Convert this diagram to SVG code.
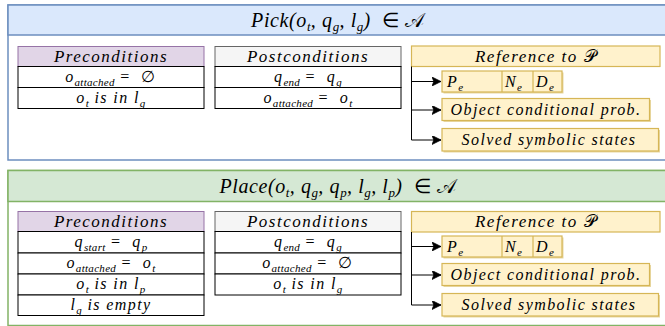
<svg xmlns="http://www.w3.org/2000/svg" width="665" height="326" viewBox="0 0 665 326">
<style>
.t{font-family:"Liberation Serif","Times New Roman",serif;font-style:italic;fill:#000}
.ttl{font-size:20px;letter-spacing:0.6px}
.hd{font-size:17px;letter-spacing:1.5px}
.rw{font-size:16px;letter-spacing:1.4px}
.sub{font-size:11px;letter-spacing:0.3px}
.tsub{font-size:13px;letter-spacing:0.3px}
.up{font-style:normal}
.pre{fill:#e1d5e7;stroke:#9673a6;stroke-width:1}
.post{fill:#f5f5f5;stroke:#666666;stroke-width:1}
.cell{fill:#ffffff;stroke:#000000;stroke-width:1}
.ref{fill:#fff2cc;stroke:#d6b656;stroke-width:1.2}
.sh{fill:#d6b656;opacity:0.55}
.con{fill:none;stroke:#000;stroke-width:1}
</style>
<defs>
<marker id="arr" viewBox="0 0 10 10" refX="10" refY="5" markerWidth="9" markerHeight="9" orient="auto" markerUnits="userSpaceOnUse">
<path d="M0,0 L10,5 L0,10 L2,5 Z" fill="#000" stroke="#000" stroke-width="0.8"/>
</marker>
</defs>

<!-- PICK -->
<g id="pick">
<rect x="8" y="5" width="670" height="155" fill="#ffffff" stroke="#6c8ebf" stroke-width="1.5"/>
<rect x="8" y="5" width="670" height="30" fill="#dae8fc" stroke="#6c8ebf" stroke-width="1.5"/>
<text class="t ttl" x="338" y="27" text-anchor="middle">Pick(o<tspan dy="4" class="tsub">t</tspan><tspan dy="-4">, q</tspan><tspan dy="4" class="tsub">g</tspan><tspan dy="-4">, l</tspan><tspan dy="4" class="tsub">g</tspan><tspan dy="-4">)&#160;&#160;</tspan><tspan class="up">∈ 𝒜</tspan></text>
</g>

<g id="pick-pre">
<rect class="pre" x="18" y="46.5" width="186" height="20"/>
<text class="t hd" x="111" y="62" text-anchor="middle">Preconditions</text>
<rect class="cell" x="18" y="66.5" width="186" height="21"/>
<text class="t rw" x="111" y="82" text-anchor="middle">o<tspan dy="4" class="sub">attached</tspan><tspan dy="-4" class="up"> =&#160;&#160;∅</tspan></text>
<rect class="cell" x="18" y="87.5" width="186" height="21"/>
<text class="t rw" x="111" y="102.5" text-anchor="middle">o<tspan dy="4" class="sub">t</tspan><tspan dy="-4"> is in l</tspan><tspan dy="4" class="sub">g</tspan></text>
</g>

<g id="pick-post">
<rect class="post" x="215" y="46.5" width="186" height="20"/>
<text class="t hd" x="308" y="62" text-anchor="middle">Postconditions</text>
<rect class="cell" x="215" y="66.5" width="186" height="21"/>
<text class="t rw" x="308" y="82" text-anchor="middle">q<tspan dy="4" class="sub">end</tspan><tspan dy="-4" class="up"> =&#160;&#160;</tspan><tspan>q</tspan><tspan dy="4" class="sub">g</tspan></text>
<rect class="cell" x="215" y="87.5" width="186" height="21"/>
<text class="t rw" x="308" y="102.5" text-anchor="middle">o<tspan dy="4" class="sub">attached</tspan><tspan dy="-4" class="up"> =&#160;&#160;</tspan><tspan>o</tspan><tspan dy="4" class="sub">t</tspan></text>
</g>

<g id="pick-ref">
<rect class="ref" x="411.5" y="46" width="248.5" height="20.5"/>
<text class="t hd" x="536" y="62" text-anchor="middle">Reference to <tspan class="up">𝒫</tspan></text>
<rect class="sh" x="443.5" y="72.5" width="120" height="21"/>
<rect class="ref" x="442" y="71" width="120" height="21"/>
<line x1="502" y1="71" x2="502" y2="92" stroke="#d6b656" stroke-width="1.2"/>
<line x1="533" y1="71" x2="533" y2="92" stroke="#d6b656" stroke-width="1.2"/>
<text class="t rw" x="447" y="87">P<tspan dy="4" class="sub">e</tspan></text>
<text class="t rw" x="505" y="87">N<tspan dy="4" class="sub">e</tspan></text>
<text class="t rw" x="536" y="87">D<tspan dy="4" class="sub">e</tspan></text>
<rect class="sh" x="443.5" y="100" width="207.5" height="22"/>
<rect class="ref" x="442" y="98.5" width="207.5" height="22"/>
<text class="t rw" x="546" y="115" text-anchor="middle">Object conditional prob.</text>
<rect class="sh" x="443.5" y="130" width="216.5" height="22.5"/>
<rect class="ref" x="442" y="128.5" width="216.5" height="22.5"/>
<text class="t rw" x="549" y="145" text-anchor="middle">Solved symbolic states</text>
</g>

<!-- PLACE -->
<g id="place">
<rect x="8" y="170.5" width="670" height="155" fill="#ffffff" stroke="#82b366" stroke-width="1.5"/>
<rect x="8" y="170.5" width="670" height="31" fill="#d5e8d4" stroke="#82b366" stroke-width="1.5"/>
<text class="t ttl" x="338" y="193" text-anchor="middle">Place(o<tspan dy="4" class="tsub">t</tspan><tspan dy="-4">, q</tspan><tspan dy="4" class="tsub">g</tspan><tspan dy="-4">, q</tspan><tspan dy="4" class="tsub">p</tspan><tspan dy="-4">, l</tspan><tspan dy="4" class="tsub">g</tspan><tspan dy="-4">, l</tspan><tspan dy="4" class="tsub">p</tspan><tspan dy="-4">)&#160;&#160;</tspan><tspan class="up">∈ 𝒜</tspan></text>
</g>

<g id="place-pre">
<rect class="pre" x="18" y="211.5" width="186" height="20"/>
<text class="t hd" x="111" y="227" text-anchor="middle">Preconditions</text>
<rect class="cell" x="18" y="231.5" width="186" height="21.5"/>
<text class="t rw" x="111" y="247" text-anchor="middle">q<tspan dy="4" class="sub">start</tspan><tspan dy="-4" class="up"> =&#160;&#160;</tspan><tspan>q</tspan><tspan dy="4" class="sub">p</tspan></text>
<rect class="cell" x="18" y="253" width="186" height="21"/>
<text class="t rw" x="111" y="268" text-anchor="middle">o<tspan dy="4" class="sub">attached</tspan><tspan dy="-4" class="up"> =&#160;&#160;</tspan><tspan>o</tspan><tspan dy="4" class="sub">t</tspan></text>
<rect class="cell" x="18" y="274" width="186" height="21"/>
<text class="t rw" x="111" y="289" text-anchor="middle">o<tspan dy="4" class="sub">t</tspan><tspan dy="-4"> is in l</tspan><tspan dy="4" class="sub">p</tspan></text>
<rect class="cell" x="18" y="295" width="186" height="20.5"/>
<text class="t rw" x="111" y="309.5" text-anchor="middle">l<tspan dy="4" class="sub">g</tspan><tspan dy="-4"> is empty</tspan></text>
</g>

<g id="place-post">
<rect class="post" x="215" y="211.5" width="186" height="20"/>
<text class="t hd" x="308" y="227" text-anchor="middle">Postconditions</text>
<rect class="cell" x="215" y="231.5" width="186" height="21.5"/>
<text class="t rw" x="308" y="247" text-anchor="middle">q<tspan dy="4" class="sub">end</tspan><tspan dy="-4" class="up"> =&#160;&#160;</tspan><tspan>q</tspan><tspan dy="4" class="sub">g</tspan></text>
<rect class="cell" x="215" y="253" width="186" height="21"/>
<text class="t rw" x="308" y="268" text-anchor="middle">o<tspan dy="4" class="sub">attached</tspan><tspan dy="-4" class="up"> =&#160;&#160;∅</tspan></text>
<rect class="cell" x="215" y="274" width="186" height="21"/>
<text class="t rw" x="308" y="289" text-anchor="middle">o<tspan dy="4" class="sub">t</tspan><tspan dy="-4"> is in l</tspan><tspan dy="4" class="sub">g</tspan></text>
</g>

<g id="place-ref">
<rect class="ref" x="411.5" y="211.5" width="248.5" height="20.5"/>
<text class="t hd" x="536" y="227" text-anchor="middle">Reference to <tspan class="up">𝒫</tspan></text>
<rect class="sh" x="443.5" y="237.5" width="120" height="21"/>
<rect class="ref" x="442" y="236" width="120" height="21"/>
<line x1="502" y1="236" x2="502" y2="257" stroke="#d6b656" stroke-width="1.2"/>
<line x1="533" y1="236" x2="533" y2="257" stroke="#d6b656" stroke-width="1.2"/>
<text class="t rw" x="447" y="252">P<tspan dy="4" class="sub">e</tspan></text>
<text class="t rw" x="505" y="252">N<tspan dy="4" class="sub">e</tspan></text>
<text class="t rw" x="536" y="252">D<tspan dy="4" class="sub">e</tspan></text>
<rect class="sh" x="443.5" y="265" width="207.5" height="22"/>
<rect class="ref" x="442" y="263.5" width="207.5" height="22"/>
<text class="t rw" x="546" y="280" text-anchor="middle">Object conditional prob.</text>
<rect class="sh" x="443.5" y="295" width="216.5" height="22.5"/>
<rect class="ref" x="442" y="293.5" width="216.5" height="22.5"/>
<text class="t rw" x="549" y="310" text-anchor="middle">Solved symbolic states</text>
</g>

<g id="connectors">
<path class="con" d="M411.5,66.5 V140 H441" marker-end="url(#arr)"/>
<path class="con" d="M411.5,81.5 H441" marker-end="url(#arr)"/>
<path class="con" d="M411.5,110 H441" marker-end="url(#arr)"/>
<path class="con" d="M411.5,232 V305 H441" marker-end="url(#arr)"/>
<path class="con" d="M411.5,246.5 H441" marker-end="url(#arr)"/>
<path class="con" d="M411.5,275 H441" marker-end="url(#arr)"/>
</g>
</svg>
